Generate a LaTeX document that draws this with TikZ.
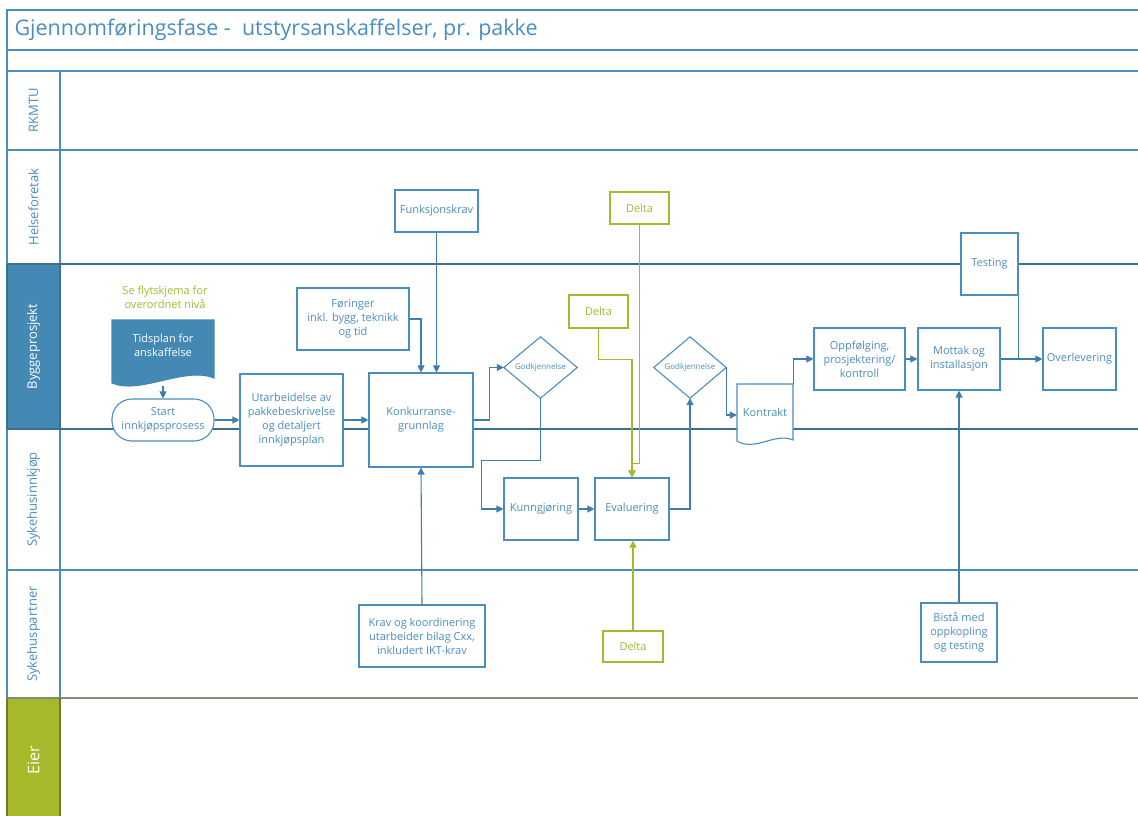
\documentclass[tikz,border=0pt]{standalone}
\usepackage{fontspec}
\setmainfont{Open Sans}
\usetikzlibrary{arrows.meta,calc}
\definecolor{vblue}{HTML}{4A8EBF}
\definecolor{vline}{HTML}{3F7EAB}
\definecolor{vdark}{HTML}{3D6E8C}
\definecolor{vfill}{HTML}{4489B4}
\definecolor{vgreen}{HTML}{A3B930}
\definecolor{vgreenfill}{HTML}{A8B82B}
\definecolor{vgreendark}{HTML}{6F7D2A}
\definecolor{vgray}{HTML}{7C8F76}
\begin{document}
\begin{tikzpicture}[x=1pt,y=-1pt,
  box/.style={draw=vblue, line width=1.1pt, fill=white, text=vblue,
    font=\fontsize{11}{14}\selectfont, align=center, inner sep=0pt},
  gbox/.style={box, draw=vgreen, text=vgreen},
  plain/.style={inner sep=0pt, align=center, text=vblue,
    font=\fontsize{11}{14}\selectfont},
  conn/.style={draw=vline, line width=1.1pt, -{Triangle[length=7pt,width=7pt]}},
  gconn/.style={draw=vgreen, line width=1.2pt, -{Triangle[length=7pt,width=7pt]}},
  link/.style={draw=vline, line width=1.1pt},
  lane/.style={text=vblue, rotate=90, font=\fontsize{13}{15}\selectfont},
  sz/.style n args={2}{minimum width=#1, minimum height=#2}]
\clip (0,0) rectangle (1138,816);
\fill[white] (0,0) rectangle (1138,816);

% pool frame and title
\draw[vblue, line width=1.1pt] (7,816) -- (7,10) -- (1140,10);
\draw[vblue, line width=1.1pt] (7,50) -- (1140,50);
\draw[vblue, line width=1.1pt] (7,71) -- (1140,71);
\node[anchor=west, text=vblue, font=\fontsize{21.5}{24}\selectfont] (title) at (11,29.5)
  {Gjennomføringsfase -\ \ utstyrsanskaffelser, pr. pakke};

% swimlanes
\fill[vfill] (7,264) rectangle (60,429);
\fill[vgreenfill] (7,698) rectangle (60,816);
\draw[vblue, line width=1.1pt] (60,71) -- (60,816);
\draw[vblue, line width=1.1pt] (7,150) -- (1140,150);
\draw[vblue, line width=1.1pt] (7,570) -- (1140,570);
\draw[vdark, line width=1.3pt] (7,264) -- (1140,264);
\draw[vdark, line width=1.3pt] (7,429) -- (1140,429);
\draw[vgray, line width=1.3pt] (7,698) -- (1140,698);
\draw[vdark, line width=1.1pt] (7,264) -- (7,429) (60,264) -- (60,429);
\draw[vgreendark, line width=1.1pt] (7,698) -- (7,816) (60,698) -- (60,816);

\node[lane] (l1) at (33.5,110.5) {RKMTU};
\node[lane] (l2) at (33.5,207) {Helseforetak};
\node[lane, text=white] (l3) at (33.5,346.5) {Byggeprosjekt};
\node[lane] (l4) at (33.5,499.5) {Sykehusinnkjøp};
\node[lane] (l5) at (33.5,634) {Sykehuspartner};
\node[lane, text=white, font=\fontsize{16}{18}\selectfont] (l6) at (33.5,760) {Eier};

% document shapes
\draw[fill=vfill, draw=vfill, line width=1.1pt]
  (112,320) -- (214,320) -- (214,378)
  .. controls (185,366) and (140,395) .. (112,383) -- cycle;
\draw[fill=white, draw=vblue, line width=1.1pt]
  (737,384) -- (793,384) -- (793,440)
  .. controls (775,432) and (755,452) .. (737,441) -- cycle;

% nodes
\node[plain, text=vgreen] (note) at (165,297) {Se flytskjema for\\overordnet nivå};
\node[plain, text=white, sz={102pt}{50pt}] (tids) at (163,345) {Tidsplan for\\anskaffelse};
\coordinate (tidsbunn) at (163,386);
\node[box, sz={102pt}{42pt}, rounded corners=20pt] (start) at (163,420) {Start\\innkjøpsprosess};
\node[box, sz={103pt}{92pt}] (utarb) at (291.5,420) {Utarbeidelse av\\pakkebeskrivelse\\og detaljert\\innkjøpsplan};
\node[box, sz={104pt}{94pt}] (konk) at (421,420) {Konkurranse-\\grunnlag};
\node[box, sz={112pt}{62pt}] (foer) at (353,319) {Føringer\\inkl. bygg, teknikk\\og tid};
\node[box, sz={83pt}{42pt}] (funk) at (436.5,211) {Funksjonskrav};
\node[plain, sz={73pt}{61pt}, font=\fontsize{8}{10}\selectfont] (gk1) at (540.5,367.5) {Godkjennelse};
\node[plain, sz={72pt}{61pt}, font=\fontsize{8}{10}\selectfont] (gk2) at (690,367.5) {Godkjennelse};
\draw[vblue, line width=1.1pt] (gk1.north) -- (gk1.east) -- (gk1.south) -- (gk1.west) -- cycle;
\draw[vblue, line width=1.1pt] (gk2.north) -- (gk2.east) -- (gk2.south) -- (gk2.west) -- cycle;
\node[box, sz={74pt}{62pt}] (kunn) at (541,509) {Kunngjøring};
\node[box, sz={74pt}{62pt}] (eval) at (632,509) {Evaluering};
\node[gbox, sz={59pt}{32pt}] (deltaA) at (639.5,208) {Delta};
\node[gbox, sz={59pt}{33pt}] (deltaB) at (598.5,311.5) {Delta};
\node[gbox, sz={60pt}{31pt}] (deltaC) at (633,646.5) {Delta};
\node[plain, sz={56pt}{62pt}] (kontrakt) at (765,415) {\raisebox{5pt}{Kontrakt}};
\node[box, sz={91pt}{62pt}] (oppf) at (859.5,359) {Oppfølging,\\prosjektering/\\kontroll};
\node[box, sz={82pt}{62pt}] (mottak) at (959,359) {Mottak og\\installasjon};
\node[box, sz={73pt}{62pt}] (overl) at (1079.5,359) {Overlevering};
\node[box, sz={57pt}{62pt}] (testing) at (989.5,264) {Testing};
\node[box, sz={126pt}{62pt}] (krav) at (422,636) {Krav og koordinering\\utarbeider bilag Cxx,\\inkludert IKT-krav};
\node[box, sz={76pt}{59pt}] (bista) at (959,632.5) {Bistå med\\oppkopling\\og testing};

% connectors
\draw[conn] (tidsbunn) -- (start.north);
\draw[conn] (start.east) -- (utarb.west);
\draw[conn] (utarb.west -| utarb.east) -- (konk.west);
\draw[conn] (foer.east) -| (konk.north);
\draw[conn] (funk.south) -- (funk.south |- konk.north);
\draw[conn] (krav.north) -- (konk.south);
\draw[conn] (konk.east) -- ++(16,0) |- (gk1.west);
\draw[conn] (gk1.south) -- ++(0,62) -| ($(kunn.west)+(-22,0)$) -- (kunn.west);
\draw[conn] (kunn.east) -- (eval.west);
\draw[conn] (eval.east) -| (gk2.south);
\draw[conn] (gk2.east) |- (kontrakt.west);
\draw[conn] (kontrakt.north east) |- (oppf.west);
\draw[conn] (oppf.east) -- (mottak.west);
\draw[conn] (mottak.east) -- (overl.west);
\draw[link] (testing.south east) -- (testing.south east |- mottak.east);
\draw[conn] (bista.north) -- (mottak.south);
\draw[gconn] (deltaA.south) -- ++(0,239) -| (eval.north);
\draw[gconn] (deltaB.south) -- ++(0,31) -| (eval.north);
\draw[gconn] (deltaC.north) -- (deltaC.north |- eval.south);
\end{tikzpicture}
\end{document}
